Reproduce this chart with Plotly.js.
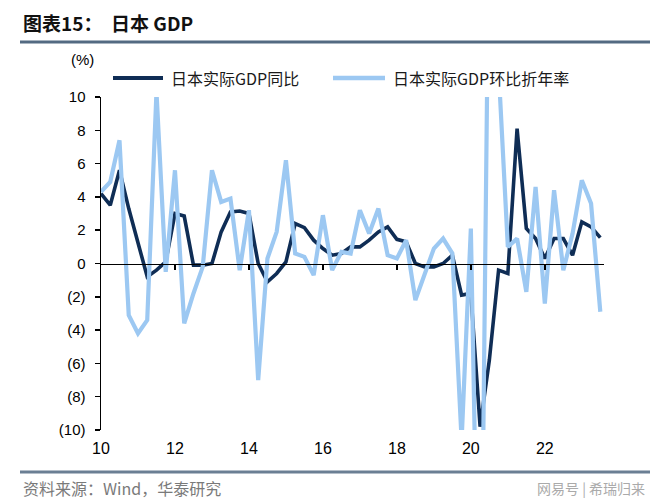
<!DOCTYPE html>
<html>
<head>
<meta charset="utf-8">
<script src="https://cdn.plot.ly/plotly-3.0.1.min.js"></script>
<style>
html,body{margin:0;padding:0;background:#fff;}
#chart{width:660px;height:503px;}
</style>
</head>
<body>
<div id="chart"></div>
<script>
// ---- data ----
const quarters = [
  '2010Q1','2010Q2','2010Q3','2010Q4','2011Q1','2011Q2','2011Q3','2011Q4',
  '2012Q1','2012Q2','2012Q3','2012Q4','2013Q1','2013Q2','2013Q3','2013Q4',
  '2014Q1','2014Q2','2014Q3','2014Q4','2015Q1','2015Q2','2015Q3','2015Q4',
  '2016Q1','2016Q2','2016Q3','2016Q4','2017Q1','2017Q2','2017Q3','2017Q4',
  '2018Q1','2018Q2','2018Q3','2018Q4','2019Q1','2019Q2','2019Q3','2019Q4',
  '2020Q1','2020Q2','2020Q3','2020Q4','2021Q1','2021Q2','2021Q3','2021Q4',
  '2022Q1','2022Q2','2022Q3','2022Q4','2023Q1','2023Q2','2023Q3'
];
// 日本实际GDP同比 (%)
const gdpYoY = [
  4.2, 3.5, 5.6, 3.3, 1.25, -0.8, -0.4, 0.1,
  3.0, 2.85, -0.1, -0.1, 0.0, 1.9, 3.1, 3.15,
  3.0, 0.0, -1.1, -0.6, 0.1, 2.4, 2.15, 1.4,
  0.9, 0.5, 0.6, 1.0, 1.0, 1.4, 1.9, 2.2,
  1.45, 1.3, 0.0, -0.2, -0.2, 0.0, 0.5, -1.9,
  -1.8, -9.8, -5.8, -0.4, -0.6, 8.1, 2.1, 1.5,
  0.3, 1.5, 1.5, 0.5, 2.5, 2.2, 1.55
];
// 日本实际GDP环比折年率 (%)
const gdpQoQAnn = [
  4.3, 4.9, 7.4, -3.1, -4.2, -3.4, 10.3, -0.5,
  5.6, -3.6, -1.8, -0.2, 5.6, 3.7, 3.9, -0.4,
  3.2, -7.0, 0.3, 1.9, 6.2, 0.6, 0.4, -0.7,
  2.9, -0.4, 0.7, 0.6, 3.2, 1.8, 3.3, 0.5,
  0.3, 1.4, -2.2, -0.7, 0.9, 1.5, 0.6, -10.6,
  2.1, -28.0, 22.9, 11.7, 1.0, 1.5, -1.7, 4.6,
  -2.4, 4.4, -0.4, 1.8, 5.0, 3.6, -2.9
];
const seriesNames = ['日本实际GDP同比', '日本实际GDP环比折年率'];
const xTickVals = [2010, 2012, 2014, 2016, 2018, 2020, 2022];
const xTickText = ['10', '12', '14', '16', '18', '20', '22'];
const yTickVals = [-10, -8, -6, -4, -2, 0, 2, 4, 6, 8, 10];
const yTickText = ['(10)', '(8)', '(6)', '(4)', '(2)', '0', '2', '4', '6', '8', '10'];

// ---- styles ----
const DARK = '#0f2d55';
const LIGHT = '#9cc8f2';
const FONT = '"Liberation Sans", Arial, sans-serif';
const CJK = '"Noto Sans CJK SC", "Liberation Sans", sans-serif';

const xNum = quarters.map(q => parseInt(q.slice(0, 4)) + (parseInt(q.slice(5)) - 1) / 4);
const xRange = [2010, 2023.6];

// pixel -> paper helpers (plot area: left 101, right 604, top 97, bottom 430)
const L = 101, R = 604, T = 97, B = 430;
const px = v => (v - L) / (R - L);
const py = v => (B - v) / (B - T);

const traces = [
  {
    x: xNum, y: gdpYoY, name: seriesNames[0], type: 'scatter', mode: 'lines',
    line: {color: DARK, width: 3.6}, showlegend: false, hoverinfo: 'skip'
  },
  {
    x: xNum, y: gdpQoQAnn, name: seriesNames[1], type: 'scatter', mode: 'lines',
    line: {color: LIGHT, width: 4.2}, showlegend: false, hoverinfo: 'skip'
  },
  {
    x: xRange, y: [0, 0], xaxis: 'x2', type: 'scatter', mode: 'lines',
    line: {color: 'rgba(0,0,0,0)', width: 0}, showlegend: false, hoverinfo: 'skip'
  }
];

const layout = {
  width: 660, height: 503,
  margin: {l: L, r: 660 - R, t: T, b: 503 - B, pad: 0},
  paper_bgcolor: '#ffffff', plot_bgcolor: '#ffffff',
  showlegend: false,
  font: {family: FONT, color: '#000'},
  xaxis: {
    range: xRange, tickvals: xTickVals, ticktext: xTickText,
    showgrid: false, zeroline: false, showline: false, ticks: '',
    tickfont: {size: 16, family: FONT, color: '#000'}, ticklabelstandoff: 7
  },
  xaxis2: {
    overlaying: 'x', anchor: 'free', position: 0.5, range: xRange,
    tickvals: xTickVals.slice(1), showticklabels: false,
    showgrid: false, zeroline: false, showline: true, linecolor: '#000', linewidth: 1.5,
    ticks: 'outside', ticklen: 5, tickwidth: 1.5, tickcolor: '#000'
  },
  yaxis: {
    range: [-10, 10], tickvals: yTickVals, ticktext: yTickText,
    showgrid: false, zeroline: false, showline: true, linecolor: '#000', linewidth: 1.5,
    ticks: 'outside', ticklen: 5, tickwidth: 1.5, tickcolor: '#000',
    tickfont: {size: 15, family: FONT, color: '#000'}, ticklabelstandoff: 6
  },
  shapes: [
    {type: 'line', xref: 'paper', yref: 'paper', x0: px(20), x1: px(650), y0: py(42), y1: py(42),
     line: {color: '#536a82', width: 3}},
    {type: 'line', xref: 'paper', yref: 'paper', x0: px(20), x1: px(650), y0: py(472), y1: py(472),
     line: {color: '#6b7f94', width: 3}},
    {type: 'line', xref: 'paper', yref: 'paper', x0: px(113), x1: px(163), y0: py(78), y1: py(78),
     line: {color: DARK, width: 4}},
    {type: 'line', xref: 'paper', yref: 'paper', x0: px(333), x1: px(385), y0: py(78), y1: py(78),
     line: {color: LIGHT, width: 4.5}}
  ],
  annotations: [
    {xref: 'paper', yref: 'paper', x: px(21), y: py(22), xanchor: 'left', yanchor: 'middle',
     text: '<b>图表15：  日本 GDP</b>', showarrow: false,
     font: {family: CJK, size: 19, color: '#111'}},
    {xref: 'paper', yref: 'paper', x: px(82), y: py(60), xanchor: 'center', yanchor: 'middle',
     text: '(%)', showarrow: false, font: {family: FONT, size: 15, color: '#000'}},
    {xref: 'paper', yref: 'paper', x: px(169), y: py(78), xanchor: 'left', yanchor: 'middle',
     text: seriesNames[0], showarrow: false, font: {family: CJK, size: 16, color: '#1a1a1a'}},
    {xref: 'paper', yref: 'paper', x: px(391), y: py(78), xanchor: 'left', yanchor: 'middle',
     text: seriesNames[1], showarrow: false, font: {family: CJK, size: 16, color: '#1a1a1a'}},
    {xref: 'paper', yref: 'paper', x: px(21), y: py(488), xanchor: 'left', yanchor: 'middle',
     text: '资料来源：Wind，华泰研究', showarrow: false, font: {family: CJK, size: 16, color: '#7a7a7a'}},
    {xref: 'paper', yref: 'paper', x: px(647), y: py(488), xanchor: 'right', yanchor: 'middle',
     text: '网易号 | 希瑞归来', showarrow: false, font: {family: CJK, size: 14, color: '#aaa'}}
  ]
};

Plotly.newPlot('chart', traces, layout, {staticPlot: true, displayModeBar: false});
</script>
</body>
</html>
